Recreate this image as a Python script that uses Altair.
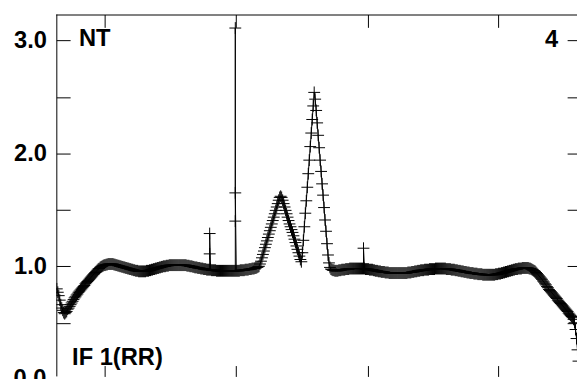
import altair as alt
import pandas as pd

# Spectrum amplitude per channel
values = [
    0.80, 0.77, 0.74, 0.70, 0.66, 0.63, 0.61, 0.59, 0.58, 0.59,
    0.60, 0.62, 0.63, 0.645, 0.66, 0.675, 0.69, 0.705, 0.72, 0.73,
    0.745, 0.755, 0.77, 0.78, 0.79, 0.80, 0.81, 0.82, 0.83, 0.845,
    0.855, 0.865, 0.875, 0.885, 0.895, 0.905, 0.915, 0.925, 0.935, 0.945,
    0.955, 0.965, 0.975, 0.98, 0.99, 0.995, 1.00, 1.005, 1.01, 1.01,
    1.015, 1.015, 1.02, 1.02, 1.02, 1.02, 1.02, 1.02, 1.015, 1.015,
    1.01, 1.01, 1.005, 1.005, 1.0, 1.0, 0.995, 0.995, 0.99, 0.99,
    0.985, 0.985, 0.98, 0.98, 0.975, 0.975, 0.97, 0.97, 0.965, 0.965,
    0.96, 0.96, 0.96, 0.955, 0.955, 0.955, 0.955, 0.955, 0.955, 0.955,
    0.955, 0.96, 0.96, 0.96, 0.965, 0.965, 0.97, 0.97, 0.975, 0.975,
    0.98, 0.98, 0.985, 0.985, 0.99, 0.99, 0.995, 0.995, 1.0, 1.0,
    1.0, 1.005, 1.005, 1.005, 1.01, 1.01, 1.01, 1.01, 1.01, 1.01,
    1.01, 1.01, 1.01, 1.01, 1.01, 1.01, 1.01, 1.01, 1.01, 1.01,
    1.01, 1.01, 1.005, 1.005, 1.005, 1.0, 1.0, 1.0, 0.995, 0.995,
    0.99, 0.99, 0.99, 0.985, 0.985, 0.985, 0.98, 0.98, 0.98, 0.975,
    0.975, 0.975, 0.97, 0.97, 0.97, 0.97, 0.97, 0.965, 0.965, 0.965,
    0.965, 0.965, 0.96, 0.96, 0.96, 0.96, 0.96, 0.96, 0.96, 0.96,
    0.96, 0.96, 0.96, 0.96, 0.96, 0.96, 0.96, 0.96, 0.96, 0.96,
    0.96, 0.96, 0.96, 0.96, 0.96, 0.96, 0.965, 0.965, 0.965, 0.965,
    0.965, 0.97, 0.97, 0.97, 0.97, 0.975, 0.975, 0.975, 0.98, 0.98,
    0.98, 0.985, 0.985, 0.99, 0.995, 1.00, 1.02, 1.045, 1.075, 1.105,
    1.135, 1.165, 1.195, 1.225, 1.255, 1.285, 1.315, 1.345, 1.375, 1.405,
    1.435, 1.465, 1.495, 1.525, 1.555, 1.585, 1.61, 1.62, 1.61, 1.585,
    1.555, 1.525, 1.495, 1.465, 1.435, 1.405, 1.375, 1.35, 1.325, 1.30,
    1.27, 1.24, 1.21, 1.18, 1.15, 1.12, 1.09, 1.06, 1.04, 1.12,
    1.23, 1.35, 1.47, 1.58, 1.70, 1.82, 1.94, 2.06, 2.18, 2.30,
    2.42, 2.54, 2.48, 2.38, 2.27, 2.16, 2.05, 1.94, 1.84, 1.73,
    1.63, 1.52, 1.41, 1.31, 1.20, 1.10, 1.03, 0.99, 0.975, 0.97,
    0.965, 0.965, 0.96, 0.96, 0.96, 0.96, 0.965, 0.965, 0.965, 0.97,
    0.97, 0.97, 0.97, 0.975, 0.975, 0.975, 0.975, 0.98, 0.98, 0.98,
    0.98, 0.98, 0.98, 0.98, 0.98, 0.98, 0.98, 0.98, 0.98, 0.98,
    0.98, 0.98, 0.98, 0.975, 0.975, 0.975, 0.975, 0.97, 0.97, 0.97,
    0.97, 0.965, 0.965, 0.96, 0.96, 0.96, 0.955, 0.955, 0.955, 0.95,
    0.95, 0.95, 0.95, 0.945, 0.945, 0.945, 0.945, 0.94, 0.94, 0.94,
    0.94, 0.94, 0.94, 0.94, 0.94, 0.94, 0.94, 0.94, 0.94, 0.94,
    0.94, 0.94, 0.94, 0.94, 0.94, 0.94, 0.945, 0.945, 0.945, 0.945,
    0.95, 0.95, 0.95, 0.955, 0.955, 0.955, 0.96, 0.96, 0.96, 0.965,
    0.965, 0.965, 0.965, 0.97, 0.97, 0.97, 0.97, 0.97, 0.975, 0.975,
    0.975, 0.975, 0.975, 0.975, 0.98, 0.98, 0.98, 0.98, 0.98, 0.98,
    0.98, 0.98, 0.98, 0.98, 0.98, 0.975, 0.975, 0.975, 0.975, 0.975,
    0.97, 0.97, 0.97, 0.97, 0.965, 0.965, 0.965, 0.96, 0.96, 0.96,
    0.955, 0.955, 0.955, 0.95, 0.95, 0.95, 0.945, 0.945, 0.945, 0.94,
    0.94, 0.94, 0.94, 0.935, 0.935, 0.935, 0.935, 0.93, 0.93, 0.93,
    0.93, 0.93, 0.925, 0.925, 0.925, 0.925, 0.925, 0.925, 0.925, 0.925,
    0.925, 0.925, 0.925, 0.925, 0.925, 0.93, 0.93, 0.93, 0.935, 0.935,
    0.935, 0.94, 0.94, 0.945, 0.945, 0.95, 0.95, 0.955, 0.955, 0.96,
    0.96, 0.965, 0.965, 0.97, 0.97, 0.975, 0.975, 0.975, 0.98, 0.98,
    0.98, 0.98, 0.985, 0.985, 0.985, 0.985, 0.985, 0.985, 0.985, 0.98,
    0.98, 0.975, 0.97, 0.965, 0.96, 0.955, 0.945, 0.935, 0.925, 0.915,
    0.905, 0.895, 0.885, 0.87, 0.86, 0.845, 0.835, 0.82, 0.81, 0.795,
    0.785, 0.775, 0.765, 0.755, 0.745, 0.735, 0.725, 0.715, 0.70, 0.69,
    0.68, 0.67, 0.66, 0.65, 0.64, 0.63, 0.62, 0.61, 0.60, 0.585,
    0.575, 0.565, 0.555, 0.545, 0.53, 0.50, 0.44, 0.36, 0.26, 0.16,
]

# Extra samples (spikes) at a few channels
spike_channels = [156, 182, 312]
spike_values = [[1.11, 1.29], [1.40, 3.11, 1.65], [1.16]]

y_tick_values = [0.0, 0.5, 1.0, 1.5, 2.0, 2.5, 3.0]
x_tick_channels = [49.8, 182.5, 316.2, 448.8]

source_label = "NT"
panel_label = "4"
if_label = "IF 1(RR)"
zero_label = "0.0"

rows = []
for i, v in enumerate(values):
    ch = i + 1
    rows.append({"channel": ch, "value": v})
    if ch in spike_channels:
        for sv in spike_values[spike_channels.index(ch)]:
            rows.append({"channel": ch, "value": sv})
for k, r in enumerate(rows):
    r["idx"] = k
df = pd.DataFrame(rows)

W, H = 528, 367
FONT = "Liberation Sans"
PLUS = "M-1,0L1,0M0,-1L0,1"

xscale = alt.Scale(domain=[0.5, 528.5], nice=False, zero=False)
yscale = alt.Scale(domain=[0.0245, 3.2297], nice=False, zero=False)

base = alt.Chart(df)

line = base.mark_line(color="black", strokeWidth=1, clip=True).encode(
    x=alt.X("channel:Q", scale=xscale,
            axis=alt.Axis(orient="top", values=x_tick_channels, labels=False,
                          domain=False, grid=False, ticks=True, tickSize=13,
                          offset=-13, tickColor="black", title="")),
    y=alt.Y("value:Q", scale=yscale,
            axis=alt.Axis(orient="left", values=y_tick_values, domain=False,
                          grid=False, tickSize=14, offset=-14, tickColor="black",
                          labelExpr="datum.value % 1 === 0 ? format(datum.value, '.1f') : ''",
                          labelFont=FONT, labelFontSize=24, labelFontWeight="bold",
                          labelColor="black", labelPadding=10, labelOverlap=False,
                          labelBaseline="middle", title="")),
    order="idx:Q",
)

points = base.mark_point(shape=PLUS, filled=False, size=144, color="black",
                         strokeWidth=1, opacity=1, clip=True).encode(
    x=alt.X("channel:Q", scale=xscale,
            axis=alt.Axis(orient="bottom", values=x_tick_channels, labels=False,
                          domain=False, grid=False, tickSize=11, offset=-11,
                          tickColor="black", title="")),
    y=alt.Y("value:Q", scale=yscale,
            axis=alt.Axis(orient="right", values=y_tick_values, labels=False,
                          domain=False, grid=False, tickSize=10, offset=-10,
                          tickColor="black", title="")),
)

one = pd.DataFrame({"k": [0]})
frame_left = alt.Chart(one).mark_rule(color="black", strokeWidth=1).encode(
    x=alt.value(0.5), y=alt.value(0), y2=alt.value(H))
frame_top = alt.Chart(one).mark_rule(color="black", strokeWidth=1).encode(
    x=alt.value(0), x2=alt.value(W), y=alt.value(0.5))

def label(txt, x, y, align, baseline="alphabetic"):
    return alt.Chart(one).mark_text(font=FONT, fontSize=24, fontWeight="bold",
                                    align=align, baseline=baseline, color="black").encode(
        x=alt.value(x), y=alt.value(y), text=alt.value(txt))

txt_nt = label(source_label, 23, 32, "left")
txt_4 = label(panel_label, 509, 33, "right")
txt_if = label(if_label, 16, 355, "left")
txt_zero = label(zero_label, -10, 369.8, "right", "middle")

chart = alt.layer(line, points, frame_left, frame_top,
                  txt_nt, txt_4, txt_if, txt_zero).resolve_axis(
    x="independent", y="independent"
).properties(
    width=W, height=H,
    autosize=alt.AutoSizeParams(type="none"),
    padding={"left": 49, "top": 4, "right": 0, "bottom": 0},
    background="white",
).configure_view(strokeOpacity=0)

chart.save("out.html", embed_options={"renderer": "svg", "actions": False})
